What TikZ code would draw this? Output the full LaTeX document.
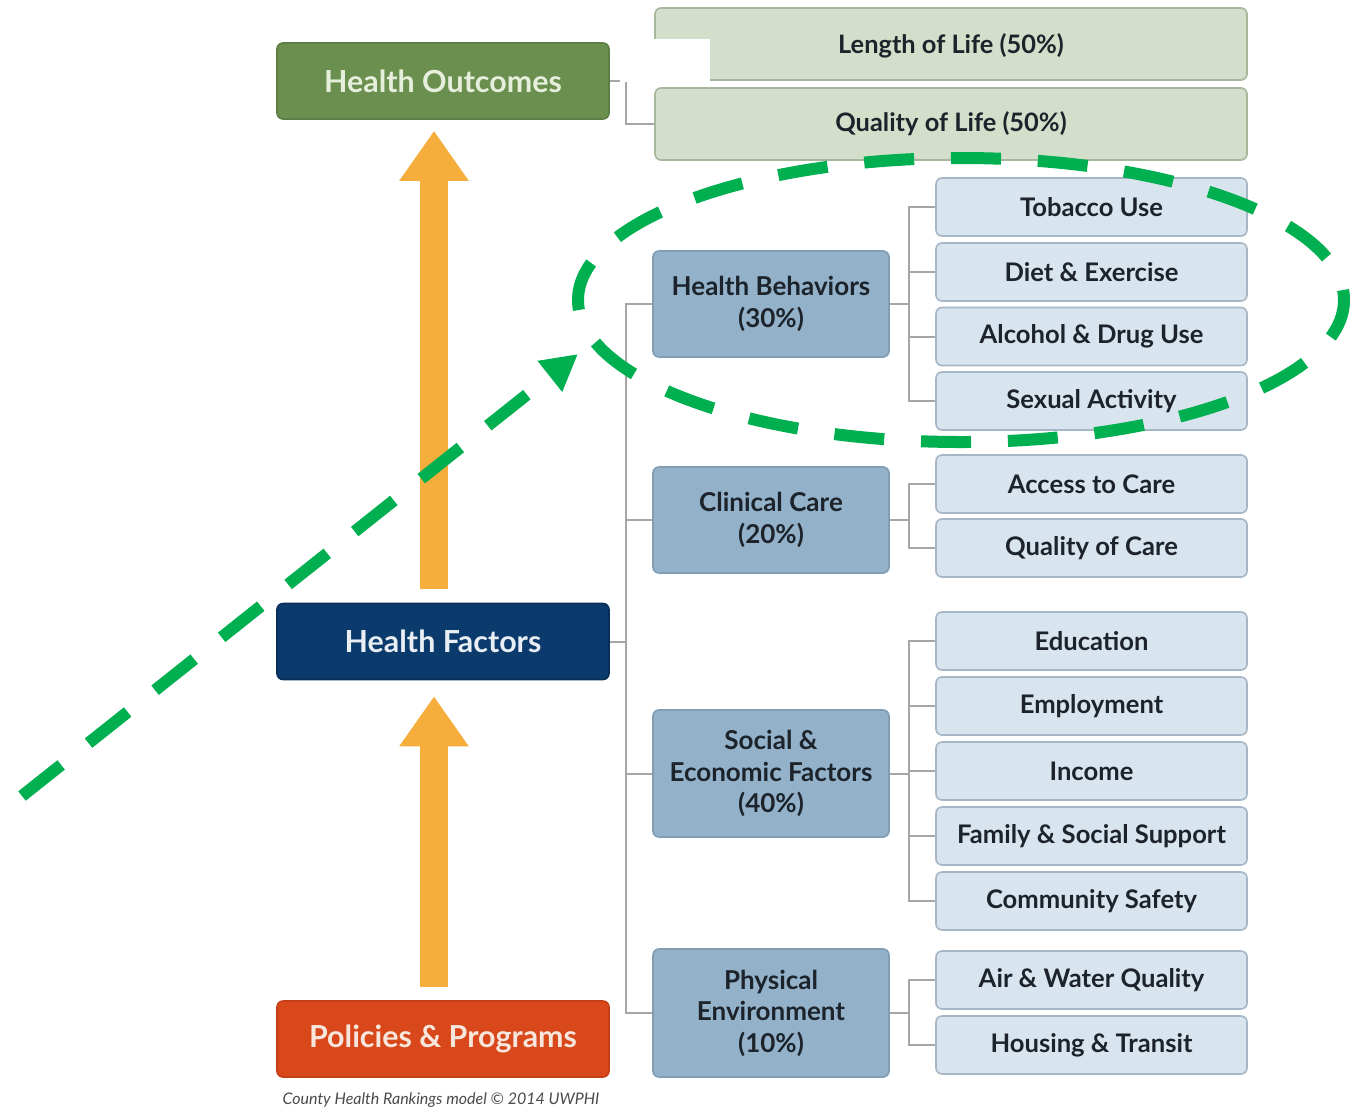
\documentclass[tikz,border=0pt]{standalone}
\usepackage{fontspec}
\setmainfont{Lato}
\usetikzlibrary{arrows.meta}
\definecolor{hogreen}{HTML}{6A8F4F}
\definecolor{hoborder}{HTML}{5C7E44}
\definecolor{hotext}{HTML}{E6EEDC}
\definecolor{hfblue}{HTML}{0B3B6C}
\definecolor{hfborder}{HTML}{082E57}
\definecolor{hftext}{HTML}{E8EEF4}
\definecolor{ppred}{HTML}{D8481B}
\definecolor{ppborder}{HTML}{C33F17}
\definecolor{pptext}{HTML}{F7E6DC}
\definecolor{arroworange}{HTML}{F5AE3C}
\definecolor{lifefill}{HTML}{D3DFCA}
\definecolor{lifeborder}{HTML}{A7B79C}
\definecolor{midfill}{HTML}{93B2CA}
\definecolor{midborder}{HTML}{809DB4}
\definecolor{subfill}{HTML}{D9E5EE}
\definecolor{subborder}{HTML}{A7B6C5}
\definecolor{linkgray}{HTML}{A6A6A6}
\definecolor{markgreen}{HTML}{00B050}
\definecolor{darktext}{HTML}{1C232B}
\definecolor{captiongray}{HTML}{4A4A4A}
\begin{document}
\begin{tikzpicture}[x=0.5pt,y=-0.5pt,
  bigbox/.style={draw, rounded corners=3pt, line width=0.8pt, minimum width=166pt, minimum height=38pt, inner sep=0pt, font=\bfseries\fontsize{15.2}{18}\selectfont},
  lifebox/.style={draw=lifeborder, fill=lifefill, rounded corners=3pt, line width=0.8pt, minimum width=296pt, minimum height=36pt, inner sep=0pt, text=darktext, font=\bfseries\fontsize{12.7}{15}\selectfont},
  midbox/.style={draw=midborder, fill=midfill, rounded corners=3pt, line width=0.8pt, minimum width=118pt, inner sep=0pt, align=center, text=darktext, font=\bfseries\fontsize{13}{15.7}\selectfont},
  subbox/.style={draw=subborder, fill=subfill, rounded corners=3pt, line width=0.8pt, minimum width=155.5pt, minimum height=29pt, inner sep=0pt, text=darktext, font=\bfseries\fontsize{12.8}{15}\selectfont},
  link/.style={draw=linkgray, line width=1pt},
  uparrow/.style={draw=arroworange, line width=14pt, -{Triangle[width=33pt,length=25pt]}},
  greenmark/.style={draw=markgreen, line width=6pt, dash pattern=on 25pt off 17.5pt},
]
\useasboundingbox (0,0) rectangle (1359,1110);

% left column
\node[bigbox, fill=hogreen, draw=hoborder, text=hotext] (HO) at (443,81) {Health Outcomes};
\node[bigbox, fill=hfblue, draw=hfborder, text=hftext] (HF) at (443,641.5) {Health Factors};
\node[bigbox, fill=ppred, draw=ppborder, text=pptext] (PP) at (443,1039) {Policies \& Programs};
\node[font=\itshape\fontsize{8}{10}\selectfont, text=captiongray, inner sep=0pt] (cap) at (441,1100) {County Health Rankings model © 2014 UWPHI};

% outcomes
\node[lifebox, text depth=0pt] (LoL) at (951,44) {Length of Life (50\%)};
\node[lifebox] (QoL) at (951,124) {Quality of Life (50\%)};

% factor groups
\node[midbox, minimum height=53pt] (HB) at (771,304) {Health Behaviors\\(30\%)};
\node[midbox, minimum height=53pt] (CC) at (771,520) {Clinical Care\\(20\%)};
\node[midbox, minimum height=63.5pt] (SEF) at (771,773.5) {Social \&\\Economic Factors\\(40\%)};
\node[midbox, minimum height=64pt] (PE) at (771,1013) {Physical\\Environment\\(10\%)};

% sub factors
\node[subbox] (Tob) at (1091.5,207) {Tobacco Use};
\node[subbox] (Diet) at (1091.5,272) {Diet \& Exercise};
\node[subbox] (Alc) at (1091.5,336.5) {Alcohol \& Drug Use};
\node[subbox] (Sex) at (1091.5,401) {Sexual Activity};
\node[subbox] (Acc) at (1091.5,484) {Access to Care};
\node[subbox] (QoC) at (1091.5,548) {Quality of Care};
\node[subbox] (Edu) at (1091.5,641) {Education};
\node[subbox] (Emp) at (1091.5,706) {Employment};
\node[subbox] (Inc) at (1091.5,771) {Income};
\node[subbox] (Fam) at (1091.5,836) {Family \& Social Support};
\node[subbox] (Com) at (1091.5,901) {Community Safety};
\node[subbox] (Air) at (1091.5,980) {Air \& Water Quality};
\node[subbox] (Hou) at (1091.5,1045) {Housing \& Transit};

% connectors
\foreach \t in {LoL,QoL} \draw[link] (HO.east) -- ++(16,0) |- (\t.west);
\foreach \t in {HB,CC,SEF,PE} \draw[link] (HF.east) -- ++(16,0) |- (\t.west);
\foreach \t in {Tob,Diet,Alc,Sex} \draw[link] (HB.east) -- ++(19,0) |- (\t.west);
\foreach \t in {Acc,QoC} \draw[link] (CC.east) -- ++(19,0) |- (\t.west);
\foreach \t in {Edu,Emp,Inc,Fam,Com} \draw[link] (SEF.east) -- ++(19,0) |- (\t.west);
\foreach \t in {Air,Hou} \draw[link] (PE.east) -- ++(19,0) |- (\t.west);

% white patch
\fill[white] (620,39) rectangle (710,82);

% orange arrows
\draw[uparrow, shorten <=7pt, shorten >=5.5pt] ([xshift=-4.5pt]HF.north) -- ([xshift=-4.5pt]HO.south);
\draw[uparrow, shorten <=6.5pt, shorten >=8pt] ([xshift=-4.5pt]PP.north) -- ([xshift=-4.5pt]HF.south);

% green marks
\draw[greenmark, dash pattern=on 25pt off 18.44pt, dash phase=5pt] (961,300) ellipse [x radius=383, y radius=142];
\coordinate (g0) at (22,796);
\coordinate (g1) at (578,354);
\draw[greenmark, -{Triangle[width=18.5pt,length=18pt]}] (g0) -- (g1);
\end{tikzpicture}
\end{document}
